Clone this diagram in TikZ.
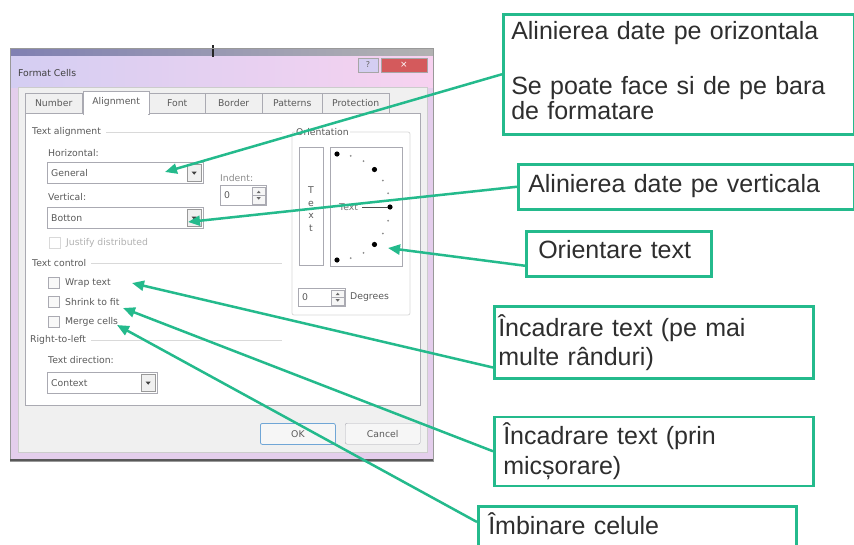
\documentclass[tikz,border=0pt]{standalone}
\usepackage{fontspec}
\setmainfont{Liberation Sans}
\newfontfamily\uifont{DejaVu Sans}
\usepackage{xcolor}
\definecolor{calloutgreen}{RGB}{36,186,140}
\definecolor{framelilac}{RGB}{228,206,236}
\definecolor{titleleft}{RGB}{212,206,242}
\definecolor{titleright}{RGB}{247,210,240}
\definecolor{dialoggrey}{RGB}{240,240,240}
\definecolor{ctrlborder}{RGB}{170,170,178}
\definecolor{uitext}{RGB}{90,90,90}
\definecolor{closered}{RGB}{212,90,92}
\definecolor{okblue}{RGB}{112,166,214}
\usetikzlibrary{positioning,arrows.meta}

\begin{document}
\begin{tikzpicture}[
    x=1pt, y=-1pt,
    callout/.style={rectangle, draw=calloutgreen, fill=white, line width=2.5pt, anchor=north west, align=left, inner xsep=8pt, inner ysep=0pt, text=black!82, font=\fontsize{25}{29}\selectfont},
    pointer/.style={-{Triangle[length=12pt,width=10pt]}, draw=calloutgreen, line width=2.5pt},
    ui/.style={anchor=west, inner sep=0pt, text=uitext, font=\uifont\fontsize{9.3}{11}\selectfont},
    combo/.style={ui, draw=ctrlborder, fill=white, anchor=north west, minimum height=21pt, inner xsep=4pt, align=left},
    tabhead/.style={ui, anchor=south west, draw=ctrlborder, fill=dialoggrey, minimum height=20pt, align=center},
    checkbox/.style={draw=ctrlborder, fill=dialoggrey!50!white, minimum size=11pt, inner sep=0pt},
    dropbtn/.style={draw=black!40, fill=black!6, anchor=east, minimum width=14pt, minimum height=17pt, inner sep=0pt},
    spinbtn/.style={draw=ctrlborder, fill=dialoggrey!60!white, anchor=east, minimum width=13pt, minimum height=17pt, inner sep=0pt},
    groupline/.style={draw=black!15, line width=0.8pt},
    pushbtn/.style={ui, anchor=north west, draw=ctrlborder, fill=dialoggrey!60!white, rounded corners=2pt, minimum width=75pt, minimum height=21pt, align=center}
]
\useasboundingbox (0,0) rectangle (854,544);
\clip (0,0) rectangle (854,544);
\fill[white] (0,0) rectangle (854,544);

% window frame and title bar
\fill[framelilac] (10,48) rectangle (433,461);
\shade[left color=titleleft, right color=titleright] (10,55) rectangle (433,87);
\shade[left color=black!60!blue!50, right color=black!30] (10,48) rectangle (433,55);
\draw[black!85, line width=1.5pt] (213,45) -- (213,57);
\draw[black!40] (10,48) rectangle (433,461);
\draw[black!65, line width=2pt] (10,460) -- (433,460);
\node[ui, text=black!75] (title) at (18,73) {Format Cells};
\node[draw=black!35, fill=titleleft, minimum width=20pt, minimum height=14pt, inner sep=0pt, text=black!60, font=\uifont\fontsize{8}{8}\selectfont] (helpbtn) at (368,65) {?};
\node[draw=black!35, fill=closered, minimum width=46pt, minimum height=14pt, inner sep=0pt, text=white, font=\uifont\fontsize{9}{9}\selectfont] (closebtn) at (404,65) {×};
\filldraw[fill=dialoggrey, draw=black!20] (18,87) rectangle (427,452);

% tabs
\foreach \tx/\tw/\tname in {25/57/Number, 149/56/Font, 205/57/Border, 262/60/Patterns, 322/67/Protection}
  \node[tabhead, minimum width={\tw*1pt}] (tab\tname) at (\tx,113) {\tname};
\filldraw[fill=white, draw=ctrlborder] (25,113) rectangle (420,405);
\node[tabhead, fill=white, minimum width=66pt, minimum height=23pt] (tabAlignment) at (83,114) {Alignment};
\fill[white] (83.6,111) rectangle (148.4,115);

% text alignment
\node[ui] (alignhead) at (32,132) {Text alignment};
\draw[groupline] ([xshift=5pt]alignhead.east) -- (282,132);
\node[ui] (horizlbl) at (48,153) {Horizontal:};
\node[combo, text width=148pt] (general) at (47,162) {General};
\node[dropbtn] (generaldrop) at ([xshift=-2pt]general.east) {};
\fill[black!75] ([xshift=-2.5pt,yshift=1pt]generaldrop.center) -- ++(5,0) -- ++(-2.5,3) -- cycle;
\node[ui, text=black!45] (indentlbl) at (220,178) {Indent:};
\node[combo, text width=38pt, minimum height=20pt] (indent) at (220,185) {0};
\node[spinbtn] (indentspin) at ([xshift=-1pt]indent.east) {};
\draw[ctrlborder] (indentspin.west) -- (indentspin.east);
\fill[black!60] ([xshift=-2pt,yshift=2pt]indentspin.center) -- ++(4,0) -- ++(-2,-2.5) -- cycle;
\fill[black!60] ([xshift=-2pt,yshift=-2pt]indentspin.center) -- ++(4,0) -- ++(-2,2.5) -- cycle;
\node[ui] (vertlbl) at (48,197) {Vertical:};
\node[combo, text width=148pt] (botton) at (47,207) {Botton};
\node[dropbtn] (bottondrop) at ([xshift=-2pt]botton.east) {};
\fill[black!75] ([xshift=-2.5pt,yshift=1pt]bottondrop.center) -- ++(5,0) -- ++(-2.5,3) -- cycle;
\node[checkbox, draw=black!15, fill=white] (justbox) at (55,243) {};
\node[ui, text=black!30] (justlbl) at (66,243) {Justify distributed};

% text control
\node[ui] (ctrlhead) at (32,263) {Text control};
\draw[groupline] ([xshift=5pt]ctrlhead.east) -- (282,263);
\node[checkbox] (wrapbox) at (54,283) {};
\node[ui] (wraplbl) at (65,283) {Wrap text};
\node[checkbox] (shrinkbox) at (54,302) {};
\node[ui] (shrinklbl) at (65,302) {Shrink to fit};
\node[checkbox] (mergebox) at (54,322) {};
\node[ui] (mergelbl) at (65,322) {Merge cells};

% right-to-left
\node[ui] (rtlhead) at (30,340) {Right-to-left};
\draw[groupline] ([xshift=5pt]rtlhead.east) -- (282,340);
\node[ui] (dirlbl) at (48,360) {Text direction:};
\node[combo, text width=102pt] (context) at (47,372) {Context};
\node[dropbtn] (contextdrop) at ([xshift=-2pt]context.east) {};
\fill[black!75] ([xshift=-2.5pt,yshift=1pt]contextdrop.center) -- ++(5,0) -- ++(-2.5,3) -- cycle;

% orientation
\draw[groupline, rounded corners=2pt] (292,132) rectangle (410,315);
\node[ui, fill=white, inner xsep=1pt] (orienthead) at (295,132) {Orientation};
\node[draw=ctrlborder, fill=white, anchor=north west, minimum width=24pt, minimum height=118pt, inner sep=0pt] (vtext) at (299,147) {};
\node[ui, anchor=center, align=center, font=\uifont\fontsize{9.3}{12.7}\selectfont] (vtextlbl) at (311,209) {T\\e\\x\\t};
\node[draw=ctrlborder, fill=white, anchor=north west, minimum width=72pt, minimum height=119pt, inner sep=0pt] (dial) at (330,147) {};
\coordinate (dialhub) at (337,207);
\foreach \ang in {-90,-45,0,45,90}
  \fill[shift={(dialhub)}] (\ang:53pt) circle (2.6pt);
\foreach \ang in {-75,-60,-30,-15,15,30,60,75}
  \fill[black!45, shift={(dialhub)}] (\ang:53pt) circle (1pt);
\node[ui, text=black!55] (dialtext) at (339,207) {Text};
\draw[black!70, line width=0.8pt] ([xshift=4pt]dialtext.east) -- (388,207);
\node[combo, text width=39pt, minimum height=18pt] (degrees) at (298,288) {0};
\node[spinbtn, minimum height=15pt] (degreesspin) at ([xshift=-1pt]degrees.east) {};
\draw[ctrlborder] (degreesspin.west) -- (degreesspin.east);
\fill[black!60] ([xshift=-2pt,yshift=2pt]degreesspin.center) -- ++(4,0) -- ++(-2,-2.5) -- cycle;
\fill[black!60] ([xshift=-2pt,yshift=-2pt]degreesspin.center) -- ++(4,0) -- ++(-2,2.5) -- cycle;
\node[ui] (degreeslbl) at (350,297) {Degrees};

% buttons
\node[pushbtn, draw=okblue, line width=0.8pt] (okbtn) at (260,423) {OK};
\node[pushbtn] (cancelbtn) at (345,423) {Cancel};

% callouts
\node[callout, text width=335pt, minimum height=120pt, text height=18pt, text depth=87pt] (horizc) at (502,13)
  {Alinierea date pe orizontala\\[26pt]Se poate face si de pe bara\\[-4pt]de formatare};
\node[callout, inner xsep=10pt, text width=316pt, minimum height=45pt, text height=18pt, text depth=6pt] (vertc) at (517,163) {Alinierea date pe verticala};
\node[callout, inner xsep=12pt, text width=161pt, minimum height=45pt, text height=18pt, text depth=8pt] (orientc) at (525,230) {Orientare text};
\node[callout, inner xsep=4pt, text width=311pt, minimum height=72pt] (wrapc) at (493,305) {Încadrare text (pe mai\\multe rânduri)};
\node[callout, inner xsep=9pt, text width=301pt, minimum height=69pt, below=36pt of wrapc] (shrinkc) {Încadrare text (prin\\[1pt]micșorare)};
\node[callout, inner xsep=10pt, text width=298pt, minimum height=60pt, text height=23pt, text depth=27pt] (mergec) at (477,505) {Îmbinare celule};

% pointers
\coordinate (generaltip) at (165,172);
\coordinate (bottontip) at (188,222);
\coordinate (dialtip) at (388,248);
\coordinate (wraptip) at (132,283);
\coordinate (shrinktip) at (123,308);
\coordinate (mergetip) at (117,325);
\draw[pointer] (horizc.west) -- (generaltip);
\draw[pointer] (vertc.west) -- (bottontip);
\draw[pointer] ([yshift=-12pt]orientc.west) -- (dialtip);
\draw[pointer] ([yshift=12pt]wrapc.south west) -- (wraptip);
\draw[pointer] (shrinkc.west) -- (shrinktip);
\draw[pointer] ([yshift=-17pt]mergec.north west) -- (mergetip);
\end{tikzpicture}
\end{document}
